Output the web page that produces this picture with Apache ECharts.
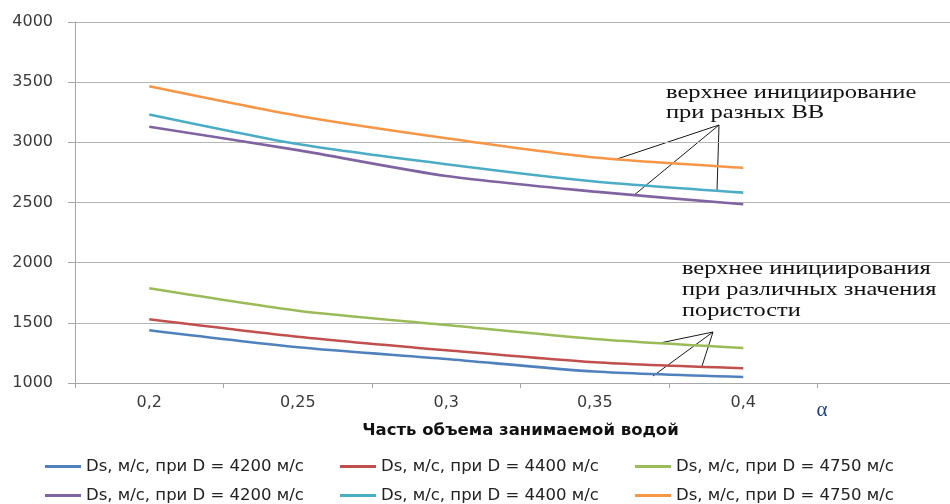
<!DOCTYPE html>
<html>
<head>
<meta charset="utf-8">
<script src="https://cdn.jsdelivr.net/npm/echarts@6/dist/echarts.min.js"></script>
<style>
  html, body { margin: 0; padding: 0; background: #ffffff; }
  #chart { width: 950px; height: 504px; }
</style>
</head>
<body>
<div id="chart"></div>
<script>
// Water volume fraction α (the trailing blank category leaves room for the α mark)
const categories = ['0,2', '0,25', '0,3', '0,35', '0,4', ''];

// Legend captions, one per detonation velocity D
const labels4200 = 'Ds, м/с, при D = 4200 м/с';
const labels4400 = 'Ds, м/с, при D = 4400 м/с';
const labels4750 = 'Ds, м/с, при D = 4750 м/с';

// Lower group: top initiation at different porosity values
const porosity4200 = [1438, 1297, 1200, 1095, 1050];
const porosity4400 = [1530, 1385, 1272, 1172, 1122];
const porosity4750 = [1787, 1601, 1482, 1366, 1291];

// Upper group: top initiation with different explosives
const explosive4200 = [3130, 2935, 2720, 2590, 2485];
const explosive4400 = [3232, 2986, 2818, 2674, 2582];
const explosive4750 = [3466, 3221, 3034, 2874, 2788];

// Value axis range
const yMin = 1000;
const yMax = 4000;
const yStep = 500;

const xTitle = 'Часть объема занимаемой водой';
const noteExplosives = 'верхнее инициирование\nпри разных ВВ';
const notePorosity = 'верхнее инициирования\nпри различных значения\nпористости';

const seriesDefs = [
  { key: 'p4200', caption: labels4200, data: porosity4200, color: '#4F81BD' },
  { key: 'p4400', caption: labels4400, data: porosity4400, color: '#C0504D' },
  { key: 'p4750', caption: labels4750, data: porosity4750, color: '#9BBB59' },
  { key: 'e4200', caption: labels4200, data: explosive4200, color: '#8064A2' },
  { key: 'e4400', caption: labels4400, data: explosive4400, color: '#4BACC6' },
  { key: 'e4750', caption: labels4750, data: explosive4750, color: '#F79646' }
];
const captionByKey = {};
seriesDefs.forEach(d => { captionByKey[d.key] = d.caption; });

const axisGrey = '#a6a6a6';
const labelFont = 'DejaVu Sans';
const labelColor = '#3b3b3b';
const noteFont = 'Liberation Serif';
const leader = { stroke: '#1a1a1a', lineWidth: 1 };

const chart = echarts.init(document.getElementById('chart'), null, { renderer: 'canvas' });

chart.setOption({
  animation: false,
  backgroundColor: '#ffffff',
  grid: {
    left: 75, right: -16, top: 22, bottom: 121,
    containLabel: false,
    outerBoundsMode: 'none'
  },
  xAxis: {
    type: 'category',
    data: categories,
    boundaryGap: true,
    axisLine: { show: true, lineStyle: { color: axisGrey, width: 1 } },
    axisTick: { show: true, length: 5, lineStyle: { color: axisGrey } },
    axisLabel: { margin: 12, fontFamily: labelFont, fontSize: 16, color: labelColor },
    splitLine: { show: false },
    name: xTitle,
    nameLocation: 'middle',
    nameGap: 39,
    nameTextStyle: { fontFamily: labelFont, fontSize: 16.5, fontWeight: 'bold', color: '#111111' }
  },
  yAxis: {
    type: 'value',
    min: yMin,
    max: yMax,
    interval: yStep,
    axisLine: { show: true, lineStyle: { color: axisGrey, width: 1 } },
    axisTick: { show: true, length: 7, inside: false, lineStyle: { color: axisGrey } },
    axisLabel: {
      margin: 22, fontFamily: labelFont, fontSize: 16, color: labelColor,
      formatter: v => String(v)
    },
    splitLine: { show: true, lineStyle: { color: '#b5b5b5', width: 1 } }
  },
  legend: {
    data: seriesDefs.map(d => d.key),
    formatter: name => captionByKey[name],
    left: 45,
    top: 458,
    width: 905,
    padding: 0,
    icon: 'rect',
    itemWidth: 36,
    itemHeight: 3,
    itemGap: 12,
    textStyle: { fontFamily: labelFont, fontSize: 16.5, color: '#222222', width: 242, lineHeight: 14 }
  },
  series: seriesDefs.map(d => ({
    name: d.key,
    type: 'line',
    data: d.data,
    smooth: 0.25,
    symbol: 'none',
    color: d.color,
    lineStyle: { color: d.color, width: 2.6 }
  })),
  graphic: [
    {
      type: 'text', x: 822, y: 410,
      style: { text: 'α', font: '21px "Liberation Serif"', fill: '#1f3f77', align: 'center', verticalAlign: 'middle' }
    },
    {
      type: 'text', x: 666, y: 83, scaleX: 1.29,
      style: { text: noteExplosives, font: '19px "' + noteFont + '"', fill: '#111111', lineHeight: 20, align: 'left', verticalAlign: 'top' }
    },
    {
      type: 'text', x: 682, y: 259, scaleX: 1.28,
      style: { text: notePorosity, font: '19px "' + noteFont + '"', fill: '#111111', lineHeight: 21, align: 'left', verticalAlign: 'top' }
    },
    { type: 'line', shape: { x1: 719, y1: 125, x2: 617, y2: 159 }, style: leader },
    { type: 'line', shape: { x1: 719, y1: 125, x2: 633, y2: 196 }, style: leader },
    { type: 'line', shape: { x1: 719, y1: 125, x2: 717, y2: 191 }, style: leader },
    { type: 'line', shape: { x1: 713, y1: 332, x2: 660, y2: 343 }, style: leader },
    { type: 'line', shape: { x1: 713, y1: 332, x2: 653, y2: 376 }, style: leader },
    { type: 'line', shape: { x1: 713, y1: 332, x2: 702, y2: 366 }, style: leader }
  ]
});
</script>
</body>
</html>
